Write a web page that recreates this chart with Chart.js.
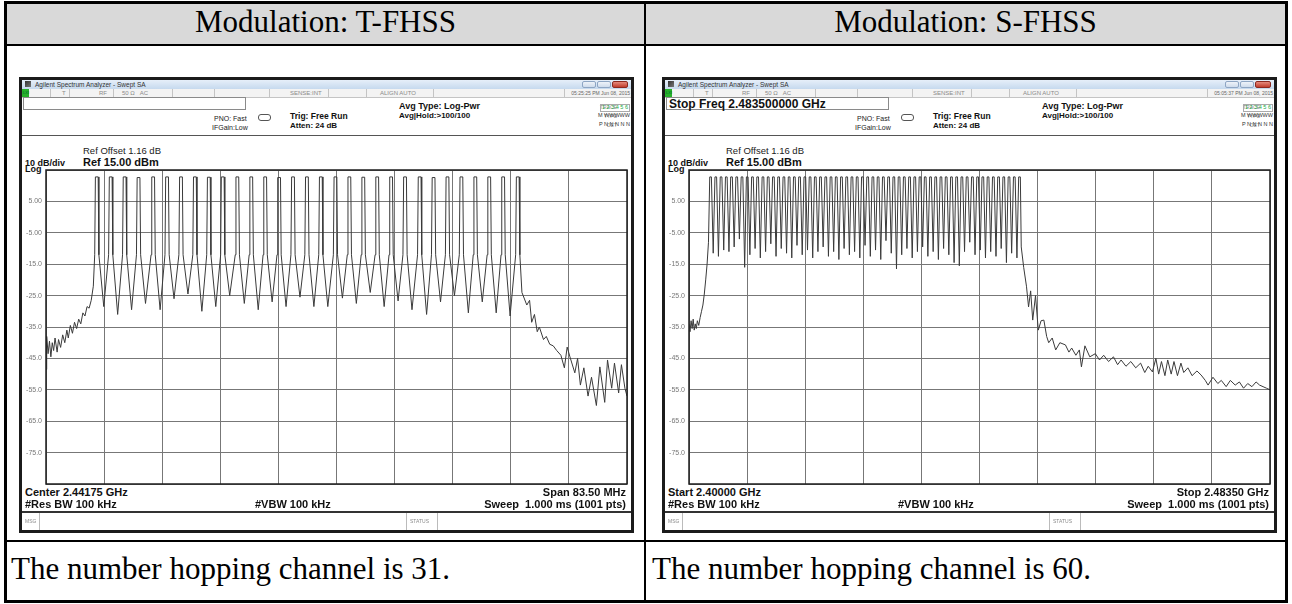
<!DOCTYPE html>
<html>
<head>
<meta charset="utf-8">
<script src="https://cdn.jsdelivr.net/npm/chart.js@4.4.1/dist/chart.umd.min.js"></script>
<style>
  html, body { margin: 0; padding: 0; background: #fff; }
  body { width: 1292px; height: 604px; position: relative; overflow: hidden; font-family: "Liberation Sans", Arial, sans-serif; }
  .rule { position: absolute; background: #000; }
  .head { position: absolute; top: 4px; height: 40px; line-height: 40px; text-align: center; font: 31px "Liberation Serif", "Times New Roman", serif; color: #000; }
  .foot { position: absolute; top: 551px; height: 49px; line-height: 49px; font: 31px "Liberation Serif", "Times New Roman", serif; color: #000; white-space: nowrap; }
  .sa { position: absolute; top: 77px; width: 615px; height: 456px; background: #fff; }
  .sa > * { position: absolute; white-space: nowrap; line-height: 1; }
  .frame { left: 0; top: 0; width: 615px; height: 456px; border: 3px solid #1b1b1b; box-sizing: border-box; }
  .titlebar { left: 3px; top: 3px; width: 609px; height: 9px; background: linear-gradient(#e6eff9, #c6d9ee); }
  .wbtn { top: 4px; height: 7px; width: 14px; border: 1px solid #8ea6c4; border-radius: 2px; background: linear-gradient(#eef3f9, #cfdcec); box-sizing: border-box; }
  .wbtn.cls { background: linear-gradient(#e58a7c, #c23e2e); border-color: #8d2a20; width: 16px; }
  .status { left: 3px; top: 12px; width: 609px; height: 8px; background: #f3f3f3; border-bottom: 1px solid #c4c4c4; }
  .sep { top: 12px; width: 1px; height: 8px; background: #c4c4c4; }
  .tiny { font-size: 6px; color: #8a8a8a; }
  .inbox { left: 4px; top: 20px; width: 223px; height: 13px; border: 1px solid #8a8a8a; box-sizing: border-box; font-weight: bold; font-size: 12px; line-height: 12px; padding-left: 2px; color: #111; }
  .b { font-weight: bold; color: #111; }
  .r { color: #222; }
  .hline { left: 3px; width: 609px; }
</style>
</head>
<body>
<div class="rule" style="left:4px;top:1px;width:1284px;height:3px"></div>
<div style="position:absolute;left:7px;top:4px;width:1278px;height:40px;background:#d9d9d9"></div>
<div class="rule" style="left:4px;top:44px;width:1284px;height:2px"></div>
<div class="rule" style="left:4px;top:540px;width:1284px;height:2px"></div>
<div class="rule" style="left:4px;top:600px;width:1284px;height:3px"></div>
<div class="rule" style="left:4px;top:1px;width:3px;height:602px"></div>
<div class="rule" style="left:1285px;top:1px;width:3px;height:602px"></div>
<div class="rule" style="left:644px;top:1px;width:2px;height:602px"></div>

<div class="head" style="left:7px;width:637px">Modulation: T-FHSS</div>
<div class="head" style="left:646px;width:639px">Modulation: S-FHSS</div>

<div id="panelLeft" class="sa" style="left:19px"></div>
<div id="panelRight" class="sa" style="left:662px"></div>

<div class="foot" style="left:11px">The number hopping channel is 31.</div>
<div class="foot" style="left:652px">The number hopping channel is 60.</div>

<script>
// sweep grid: 10 divisions across 2.40000 - 2.48350 GHz, 10 dB/div from 15 dBm
const freqGridMHz = [2400, 2408.35, 2416.7, 2425.05, 2433.4, 2441.75, 2450.1, 2458.45, 2466.8, 2475.15, 2483.5];
const levelGridDbm = [15, 5, -5, -15, -25, -35, -45, -55, -65, -75, -85];

// T-FHSS trace, [MHz, dBm], 31 hopping channels
const tfhssTrace = [
  [2400.0,-48.5],[2400.1,-38.0],[2400.3,-43.5],[2400.5,-39.5],[2400.7,-44.5],[2400.9,-40.0],[2401.1,-42.5],[2401.3,-38.5],
  [2401.6,-43.0],[2401.8,-39.0],[2402.1,-41.5],[2402.4,-37.5],[2402.7,-40.0],[2403.0,-36.0],[2403.2,-38.5],[2403.5,-34.5],
  [2403.8,-37.0],[2404.1,-33.5],[2404.4,-35.5],[2404.7,-32.5],[2405.0,-34.0],[2405.3,-30.5],[2405.6,-31.5],[2405.9,-28.5],
  [2406.2,-29.0],[2406.5,-26.5],[2406.8,-22.0],
  [2407.0,-12],[2407.1,12.8],[2407.5,12.8],[2407.6,-12],[2408.3,-28.5],
  [2409.0,-12],[2409.1,12.8],[2409.5,12.8],[2409.6,-12],[2410.3,-31.0],
  [2411.0,-12],[2411.1,12.8],[2411.5,12.8],[2411.6,-12],[2412.3,-29.5],
  [2413.0,-12],[2413.1,12.6],[2413.5,12.6],[2413.6,-12],[2414.3,-27.5],
  [2415.1,-12],[2415.2,12.8],[2415.6,12.8],[2415.7,-12],[2416.4,-29.5],
  [2417.1,-12],[2417.2,12.8],[2417.6,12.8],[2417.7,-12],[2418.4,-26.0],
  [2419.1,-12],[2419.2,12.8],[2419.6,12.8],[2419.7,-12],[2420.4,-24.5],
  [2421.1,-12],[2421.2,12.8],[2421.6,12.8],[2421.7,-12],[2422.4,-30.0],
  [2423.1,-12],[2423.2,12.7],[2423.6,12.7],[2423.7,-12],[2424.4,-28.5],
  [2425.1,-12],[2425.2,12.8],[2425.6,12.8],[2425.7,-12],[2426.4,-25.0],
  [2427.2,-12],[2427.3,12.8],[2427.7,12.8],[2427.8,-12],[2428.5,-27.5],
  [2429.2,-12],[2429.3,12.8],[2429.7,12.8],[2429.8,-12],[2430.5,-29.5],
  [2431.2,-12],[2431.3,12.8],[2431.7,12.8],[2431.8,-12],[2432.5,-27.0],
  [2433.2,-12],[2433.3,12.6],[2433.7,12.6],[2433.8,-12],[2434.5,-28.5],
  [2435.2,-12],[2435.3,12.8],[2435.7,12.8],[2435.8,-12],[2436.5,-25.5],
  [2437.2,-12],[2437.3,12.8],[2437.7,12.8],[2437.8,-12],[2438.5,-28.5],
  [2439.2,-12],[2439.3,12.8],[2439.7,12.8],[2439.8,-12],[2440.5,-28.5],
  [2441.3,-12],[2441.4,12.8],[2441.8,12.8],[2441.9,-12],[2442.6,-25.8],
  [2443.3,-12],[2443.4,12.8],[2443.8,12.8],[2443.9,-12],[2444.6,-27.5],
  [2445.3,-12],[2445.4,12.7],[2445.8,12.7],[2445.9,-12],[2446.6,-24.0],
  [2447.3,-12],[2447.4,12.8],[2447.8,12.8],[2447.9,-12],[2448.6,-28.5],
  [2449.3,-12],[2449.4,12.8],[2449.8,12.8],[2449.9,-12],[2450.6,-26.7],
  [2451.3,-12],[2451.4,12.8],[2451.8,12.8],[2451.9,-12],[2452.6,-29.5],
  [2453.4,-12],[2453.5,12.8],[2453.9,12.8],[2454.0,-12],[2454.7,-31.0],
  [2455.4,-12],[2455.5,12.6],[2455.9,12.6],[2456.0,-12],[2456.7,-27.0],
  [2457.4,-12],[2457.5,12.8],[2457.9,12.8],[2458.0,-12],[2458.7,-25.0],
  [2459.4,-12],[2459.5,12.8],[2459.9,12.8],[2460.0,-12],[2460.7,-30.5],
  [2461.4,-12],[2461.5,12.8],[2461.9,12.8],[2462.0,-12],[2462.7,-27.0],
  [2463.4,-12],[2463.5,12.8],[2463.9,12.8],[2464.0,-12],[2464.7,-30.5],
  [2465.4,-12],[2465.5,12.8],[2465.9,12.8],[2466.0,-12],[2466.7,-31.5],
  [2467.5,-12],[2467.6,12.8],[2468.0,12.8],[2468.1,-12],
  [2468.4,-24.0],[2469.1,-28.0],[2469.5,-26.5],[2469.8,-33.5],[2470.2,-31.0],[2470.6,-36.5],[2470.9,-35.0],[2471.5,-39.0],
  [2471.9,-38.0],[2472.4,-40.5],[2472.9,-41.0],[2473.4,-42.5],[2474.0,-44.0],[2474.5,-48.0],[2474.9,-41.4],[2475.3,-44.5],
  [2476.0,-49.6],[2476.4,-45.0],[2476.8,-53.5],[2477.3,-48.0],[2477.9,-57.0],[2478.4,-51.0],[2479.1,-60.0],[2479.6,-47.7],
  [2480.3,-59.0],[2480.7,-45.5],[2481.3,-54.5],[2481.7,-46.5],[2482.3,-56.0],[2482.7,-47.0],[2483.2,-54.5],[2483.5,-57.0]
];

// S-FHSS trace, [MHz, dBm], 60 hopping channels
const sfhssTrace = [
  [2400.0,-34.0],[2400.15,-36.5],[2400.3,-33.0],[2400.45,-35.5],[2400.6,-32.5],[2400.75,-36.0],[2400.9,-34.0],[2401.05,-35.5],
  [2401.2,-33.0],[2401.4,-34.5],[2401.6,-32.0],[2401.8,-30.0],[2402.0,-28.0],[2402.2,-24.5],[2402.4,-20.0],[2402.6,-15.0],
  [2402.8,-8.0],
  [2402.98,12.8],[2403.22,12.8],[2403.48,-11.5],
  [2403.73,12.8],[2403.97,12.8],[2404.23,-12.5],
  [2404.49,12.8],[2404.73,12.8],[2404.99,-10.5],
  [2405.24,12.8],[2405.48,12.8],[2405.74,-11.0],
  [2405.99,12.8],[2406.23,12.8],[2406.49,-9.5],
  [2406.74,12.8],[2406.98,12.8],[2407.24,-7.0],
  [2407.50,12.8],[2407.74,12.8],[2408.00,-16.0],
  [2408.25,12.8],[2408.49,12.8],[2408.75,-12.0],
  [2409.00,12.8],[2409.24,12.8],[2409.50,-10.0],
  [2409.75,12.8],[2409.99,12.8],[2410.25,-13.0],
  [2410.51,12.8],[2410.75,12.8],[2411.01,-11.0],
  [2411.26,12.8],[2411.50,12.8],[2411.76,-8.5],
  [2412.01,12.8],[2412.25,12.8],[2412.51,-12.5],
  [2412.76,12.8],[2413.00,12.8],[2413.26,-10.0],
  [2413.52,12.8],[2413.76,12.8],[2414.02,-11.5],
  [2414.27,12.8],[2414.51,12.8],[2414.77,-13.0],
  [2415.02,12.8],[2415.26,12.8],[2415.52,-9.0],
  [2415.77,12.8],[2416.01,12.8],[2416.27,-12.0],
  [2416.53,12.8],[2416.77,12.8],[2417.03,-10.5],
  [2417.28,12.8],[2417.52,12.8],[2417.78,-13.0],
  [2418.03,12.8],[2418.27,12.8],[2418.53,-11.0],
  [2418.78,12.8],[2419.02,12.8],[2419.28,-9.5],
  [2419.54,12.8],[2419.78,12.8],[2420.04,-12.5],
  [2420.29,12.8],[2420.53,12.8],[2420.79,-11.0],
  [2421.04,12.8],[2421.28,12.8],[2421.54,-13.5],
  [2421.79,12.8],[2422.03,12.8],[2422.29,-10.0],
  [2422.55,12.8],[2422.79,12.8],[2423.05,-12.0],
  [2423.30,12.8],[2423.54,12.8],[2423.80,-11.0],
  [2424.05,12.8],[2424.29,12.8],[2424.55,-13.0],
  [2424.80,12.8],[2425.04,12.8],[2425.30,-9.0],
  [2425.56,12.8],[2425.80,12.8],[2426.06,-12.5],
  [2426.31,12.8],[2426.55,12.8],[2426.81,-10.5],
  [2427.06,12.8],[2427.30,12.8],[2427.56,-13.5],
  [2427.81,12.8],[2428.05,12.8],[2428.31,-7.5],
  [2428.57,12.8],[2428.81,12.8],[2429.07,-11.5],
  [2429.32,12.8],[2429.56,12.8],[2429.82,-16.5],
  [2430.07,12.8],[2430.31,12.8],[2430.57,-12.0],
  [2430.82,12.8],[2431.06,12.8],[2431.32,-10.0],
  [2431.58,12.8],[2431.82,12.8],[2432.08,-13.0],
  [2432.33,12.8],[2432.57,12.8],[2432.83,-11.0],
  [2433.08,12.8],[2433.32,12.8],[2433.58,-9.5],
  [2433.83,12.8],[2434.07,12.8],[2434.33,-12.5],
  [2434.59,12.8],[2434.83,12.8],[2435.09,-11.0],
  [2435.34,12.8],[2435.58,12.8],[2435.84,-13.5],
  [2436.09,12.8],[2436.33,12.8],[2436.59,-10.0],
  [2436.84,12.8],[2437.08,12.8],[2437.34,-12.0],
  [2437.60,12.8],[2437.84,12.8],[2438.10,-14.5],
  [2438.35,12.8],[2438.59,12.8],[2438.85,-15.5],
  [2439.10,12.8],[2439.34,12.8],[2439.60,-11.0],
  [2439.85,12.8],[2440.09,12.8],[2440.35,-8.0],
  [2440.61,12.8],[2440.85,12.8],[2441.11,-12.0],
  [2441.36,12.8],[2441.60,12.8],[2441.86,-10.5],
  [2442.11,12.8],[2442.35,12.8],[2442.61,-13.0],
  [2442.86,12.8],[2443.10,12.8],[2443.36,-11.0],
  [2443.62,12.8],[2443.86,12.8],[2444.12,-12.5],
  [2444.37,12.8],[2444.61,12.8],[2444.87,-10.0],
  [2445.12,12.8],[2445.36,12.8],[2445.62,-14.5],
  [2445.87,12.8],[2446.11,12.8],[2446.37,-11.5],
  [2446.63,12.8],[2446.87,12.8],[2447.13,-13.0],
  [2447.38,12.8],[2447.62,12.8],
  [2447.75,-9.5],[2448.1,-16.0],[2448.5,-22.0],[2448.8,-28.6],[2449.1,-23.5],[2449.4,-32.8],[2449.8,-25.0],[2450.2,-36.0],
  [2450.6,-33.0],[2451.0,-32.8],[2451.4,-38.0],[2451.7,-40.0],[2452.2,-38.5],[2452.7,-42.3],[2453.3,-40.0],[2454.1,-40.7],
  [2454.6,-43.0],[2455.0,-41.7],[2455.6,-44.0],[2456.1,-42.3],[2456.4,-47.7],[2456.9,-41.0],[2457.6,-44.5],[2458.4,-43.5],
  [2459.0,-45.5],[2459.6,-44.0],[2460.3,-46.0],[2461.0,-44.5],[2461.6,-47.0],[2462.1,-45.5],[2462.8,-47.5],[2463.5,-46.0],
  [2464.2,-48.0],[2464.9,-46.5],[2465.5,-49.5],[2466.0,-47.5],[2466.6,-49.3],[2467.1,-45.0],[2467.5,-50.0],[2467.9,-46.0],
  [2468.4,-50.5],[2468.8,-45.5],[2469.3,-50.0],[2469.7,-46.0],[2470.2,-50.5],[2470.7,-46.5],[2471.1,-49.5],[2471.7,-48.0],
  [2472.3,-50.5],[2473.0,-49.0],[2473.6,-50.3],[2474.2,-52.0],[2474.6,-53.5],[2475.3,-51.0],[2476.0,-53.0],[2476.5,-52.0],
  [2477.2,-54.0],[2477.8,-52.0],[2478.5,-53.5],[2479.1,-52.5],[2479.7,-54.5],[2480.3,-53.0],[2480.9,-54.0],[2481.5,-52.5],
  [2482.0,-53.5],[2482.5,-54.0],[2483.0,-54.5],[2483.5,-55.0]
];

// analyzer window chrome around each plot
function buildPanel(el, opts) {
    el.innerHTML = `
    <div class="titlebar"></div>
    <div style="left:6px;top:4px;width:6px;height:6px;background:linear-gradient(135deg,#333,#777);"></div>
    <div style="left:16px;top:4.5px;font-size:6.5px;color:#333">Agilent Spectrum Analyzer - Swept SA</div>
    <div class="wbtn" style="left:563px"></div>
    <div class="wbtn" style="left:578px"></div>
    <div class="wbtn cls" style="left:593px"></div>
    <div class="status"></div>
    <div style="left:3px;top:12px;width:7px;height:8px;background:#27b22b"></div>
    <div class="tiny" style="left:4px;top:14px;font-size:4px;color:#063">LXI</div>
    ${[31, 50, 94, 153, 195, 250, 309, 347, 414, 545].map(x => `<div class="sep" style="left:${x}px"></div>`).join('')}
    <div class="tiny" style="left:43px;top:13px">T</div>
    <div class="tiny" style="left:80px;top:13px">RF</div>
    <div class="tiny" style="left:103px;top:13px">50 &Omega;&nbsp;&nbsp;&nbsp;AC</div>
    <div class="tiny" style="left:271px;top:13px">SENSE:INT</div>
    <div class="tiny" style="left:361px;top:13px">ALIGN AUTO</div>
    <div class="tiny" style="right:4px;top:13.5px;font-size:5px;color:#666">${opts.clock}</div>
    <div class="inbox">${opts.entry}</div>
    <div class="r" style="left:195px;top:37.5px;font-size:7px">PNO: Fast</div>
    <div class="r" style="left:193px;top:46.5px;font-size:7px">IFGain:Low</div>
    <div style="left:239px;top:37px;width:13px;height:7px;border:1px solid #555;border-radius:3px;box-sizing:border-box"></div>
    <div class="b" style="left:271px;top:34.5px;font-size:8.5px">Trig: Free Run</div>
    <div class="b" style="left:271px;top:45px;font-size:8px">Atten: 24 dB</div>
    <div class="b" style="left:380px;top:25px;font-size:9px">Avg Type: Log-Pwr</div>
    <div class="b" style="left:380px;top:35px;font-size:8px">Avg|Hold:&gt;100/100</div>
    <div class="tiny" style="right:17px;top:27.5px;font-size:5px">TRACE</div>
    <div style="right:4px;top:27px;font-size:5.5px;color:#2a4;border:1px solid #aaa;padding:0 1px">1 2 3 4 5 6</div>
    <div class="tiny" style="right:17px;top:36.5px;font-size:5px">TYPE</div>
    <div style="right:4px;top:36px;font-size:5.5px;color:#333">M WWWWW</div>
    <div class="tiny" style="right:17px;top:45.5px;font-size:5px">DET</div>
    <div style="right:4px;top:45px;font-size:5.5px;color:#333">P N N N N N</div>
    <div class="hline" style="top:58px;height:1px;background:#555"></div>
    <div class="r" style="left:64px;top:69px;font-size:9.5px">Ref Offset 1.16 dB</div>
    <div class="b" style="left:64px;top:79.5px;font-size:11px">Ref 15.00 dBm</div>
    <div class="b" style="left:6px;top:81.5px;font-size:9px">10 dB/div</div>
    <div class="b" style="left:6px;top:88px;font-size:9px">Log</div>
    <canvas id="${opts.canvasId}" width="609" height="316" style="left:0;top:92px"></canvas>
    <div class="b" style="left:6px;top:409.5px;font-size:11px">${opts.startLabel}</div>
    <div class="b" style="left:6px;top:421.5px;font-size:11px">#Res BW 100 kHz</div>
    <div class="b" style="left:236px;top:421.5px;font-size:11px">#VBW 100 kHz</div>
    <div class="b" style="right:8px;top:409.5px;font-size:11px">${opts.stopLabel}</div>
    <div class="b" style="right:8px;top:421.5px;font-size:11px">Sweep&nbsp;&nbsp;1.000 ms (1001 pts)</div>
    <div class="hline" style="top:434px;height:2px;background:#333"></div>
    <div class="tiny" style="left:6px;top:441.5px;font-size:5px">MSG</div>
    <div style="left:20px;top:436px;width:1px;height:17px;background:#bbb"></div>
    <div style="left:387px;top:436px;width:1px;height:17px;background:#bbb"></div>
    <div class="tiny" style="left:391px;top:441.5px;font-size:5px">STATUS</div>
    <div style="left:418px;top:436px;width:1px;height:17px;background:#bbb"></div>
    <div class="frame"></div>`;
}

buildPanel(document.getElementById('panelLeft'), {
    canvasId: 'tfhssChart', clock: '05:25:25 PM Jun 08, 2015', entry: '',
    startLabel: 'Center 2.44175 GHz', stopLabel: 'Span 83.50 MHz'
});
buildPanel(document.getElementById('panelRight'), {
    canvasId: 'sfhssChart', clock: '05:05:37 PM Jun 08, 2015', entry: 'Stop Freq 2.483500000 GHz',
    startLabel: 'Start 2.40000 GHz', stopLabel: 'Stop 2.48350 GHz'
});

// black border around the graticule
const plotFrame = {
    id: 'plotFrame',
    afterDraw(chart) {
        const {ctx, chartArea: a} = chart;
        ctx.save();
        ctx.strokeStyle = '#1e1e1e';
        ctx.lineWidth = 1.5;
        ctx.strokeRect(a.left, a.top, a.right - a.left, a.bottom - a.top);
        ctx.restore();
    }
};

function drawSweep(canvasId, trace) {
    const ctx = document.getElementById(canvasId).getContext('2d');
    return new Chart(ctx, {
        type: 'line',
        data: {
            datasets: [{
                data: trace.map(p => ({x: p[0], y: p[1]})),
                borderColor: '#3a3a3a',
                borderWidth: 1,
                pointRadius: 0,
                tension: 0
            }]
        },
        options: {
            responsive: false,
            animation: false,
            events: [],
            layout: {padding: {top: 1, right: 1, bottom: 1, left: 0}},
            plugins: {legend: {display: false}, tooltip: {enabled: false}},
            scales: {
                x: {
                    type: 'linear',
                    min: freqGridMHz[0],
                    max: freqGridMHz[freqGridMHz.length - 1],
                    afterBuildTicks: s => { s.ticks = freqGridMHz.map(v => ({value: v})); },
                    // no tick labels: keep the graticule the full canvas width
                    afterFit: s => { s.height = 0; s.paddingLeft = 0; s.paddingRight = 0; },
                    ticks: {display: false},
                    grid: {color: '#777', lineWidth: 1, drawTicks: false},
                    border: {display: false}
                },
                y: {
                    type: 'linear',
                    min: levelGridDbm[levelGridDbm.length - 1],
                    max: levelGridDbm[0],
                    afterBuildTicks: s => { s.ticks = levelGridDbm.map(v => ({value: v})); },
                    afterFit: s => { s.width = 27; s.paddingTop = 0; s.paddingBottom = 0; },
                    ticks: {
                        autoSkip: false,
                        padding: 4,
                        color: '#777',
                        font: {size: 7, family: 'Liberation Sans'},
                        // analyzer style: 3 significant digits, edges unlabeled
                        callback: (v, i, all) => (i === 0 || i === all.length - 1) ? '' :
                            (Math.abs(v) < 10 ? v.toFixed(2) : v.toFixed(1))
                    },
                    grid: {color: '#777', lineWidth: 1, drawTicks: false},
                    border: {display: false}
                }
            }
        },
        plugins: [plotFrame]
    });
}

drawSweep('tfhssChart', tfhssTrace);
drawSweep('sfhssChart', sfhssTrace);
</script>
</body>
</html>
